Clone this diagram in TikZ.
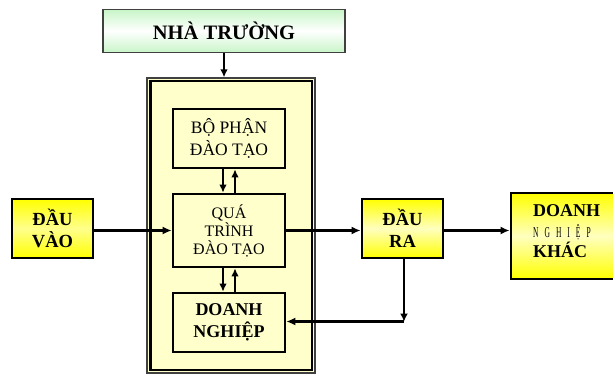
\documentclass[tikz,border=0pt]{standalone}
\usepackage{fontspec}
\setmainfont{Liberation Serif}
\usetikzlibrary{arrows.meta}
\definecolor{paleyel}{HTML}{FFFFCC}
\definecolor{palegreen}{HTML}{C8F5C8}
\definecolor{framegray}{HTML}{404040}
\begin{document}
\begin{tikzpicture}[x=1pt,y=-1pt,
  inbox/.style={draw=black,line width=2.6pt,fill=paleyel,minimum width=112pt,align=center,inner sep=0pt},
  ybox/.style={draw=black,line width=2.8pt,top color=yellow,bottom color=yellow,middle color=yellow!25,align=center,inner sep=0pt},
  arr/.style={line width=2.3pt,-{Latex[length=9pt,width=8pt]}},
  sarr/.style={line width=1.9pt,-{Latex[length=8pt,width=7.5pt]}},
  tarr/.style={line width=1.5pt,-{Latex[length=8pt,width=8pt]}},
  bigb/.style={font=\bfseries\fontsize{18.5}{22}\selectfont},
  regt/.style={font=\fontsize{16}{18}\selectfont}]
\useasboundingbox (0,0) rectangle (613,374);
\clip (0,0) rectangle (613,374);

% NHA TRUONG
\node[draw=framegray,line width=1.5pt,top color=palegreen,bottom color=palegreen,middle color=white,
  minimum width=242pt,minimum height=43pt,inner sep=0pt,font=\bfseries\fontsize{20.5}{22}\selectfont]
  (nt) at (224,31) {NHÀ TRƯỜNG};

% outer frame
\node[draw=framegray,line width=1.2pt,fill=paleyel,minimum width=168pt,minimum height=295pt,inner sep=0pt]
  (frame) at (231,225.5) {};
\draw[line width=2.2pt,black] ([shift={(4,4)}]frame.north west) rectangle ([shift={(-3.5,-3.5)}]frame.south east);

% inner boxes
\node[inbox,minimum height=59pt,font=\fontsize{17.5}{22}\selectfont] (bp) at (229,138.5) {BỘ PHẬN\\ĐÀO TẠO};
\node[inbox,minimum height=73pt,regt] (qt) at (229,230.5) {QUÁ\\TRÌNH\\ĐÀO TẠO};
\node[inbox,minimum height=59pt,bigb,font=\bfseries\fontsize{18}{22}\selectfont] (dn) at (229,322.5) {DOANH\\NGHIỆP};

% side boxes
\node[ybox,middle color=yellow!45,minimum width=81pt,minimum height=59pt,bigb] (dv) at (52.5,228.5) {ĐẦU\\VÀO};
\node[ybox,minimum width=81pt,minimum height=59pt,bigb] (dr) at (402.5,228.5) {ĐẦU\\RA};
\node[ybox,minimum width=112pt,minimum height=86pt] (dk) at (567,236) {};
\node[anchor=base west,inner sep=0pt,font=\bfseries\fontsize{18}{22}\selectfont] (dk1) at (533,217) {DOANH};
\node[anchor=base west,inner sep=0pt] (dk2) at (533,237)
  {\scalebox{0.5}[1]{\fontsize{15}{15}\selectfont N\hspace{12pt}G\hspace{12pt}H\hspace{12pt}I\hspace{12pt}Ệ\hspace{12pt}P}};
\node[anchor=base west,inner sep=0pt,font=\bfseries\fontsize{18}{22}\selectfont] (dk3) at (533,258) {KHÁC};

% connectors
\draw[sarr] (nt.south) -- (nt.south |- frame.north);
\draw[sarr] ([xshift=-6pt]bp.south) -- ([xshift=-6pt]qt.north);
\draw[sarr] ([xshift=6pt]qt.north) -- ([xshift=6pt]bp.south);
\draw[sarr] ([xshift=-6pt]qt.south) -- ([xshift=-6pt]dn.north);
\draw[sarr] ([xshift=6pt]dn.north) -- ([xshift=6pt]qt.south);
\draw[arr] (dv.east |- qt.west) -- (qt.west);
\draw[arr] (qt.east) -- (dr.west |- qt.east);
\draw[arr] (dr.east |- qt.east) -- (dk.west |- qt.east);
\coordinate (c) at (404,321.5);
\draw[tarr] ([xshift=1.5pt]dr.south) -- (c);
\draw[arr] (c) -- (dn.east |- c);
\end{tikzpicture}
\end{document}
